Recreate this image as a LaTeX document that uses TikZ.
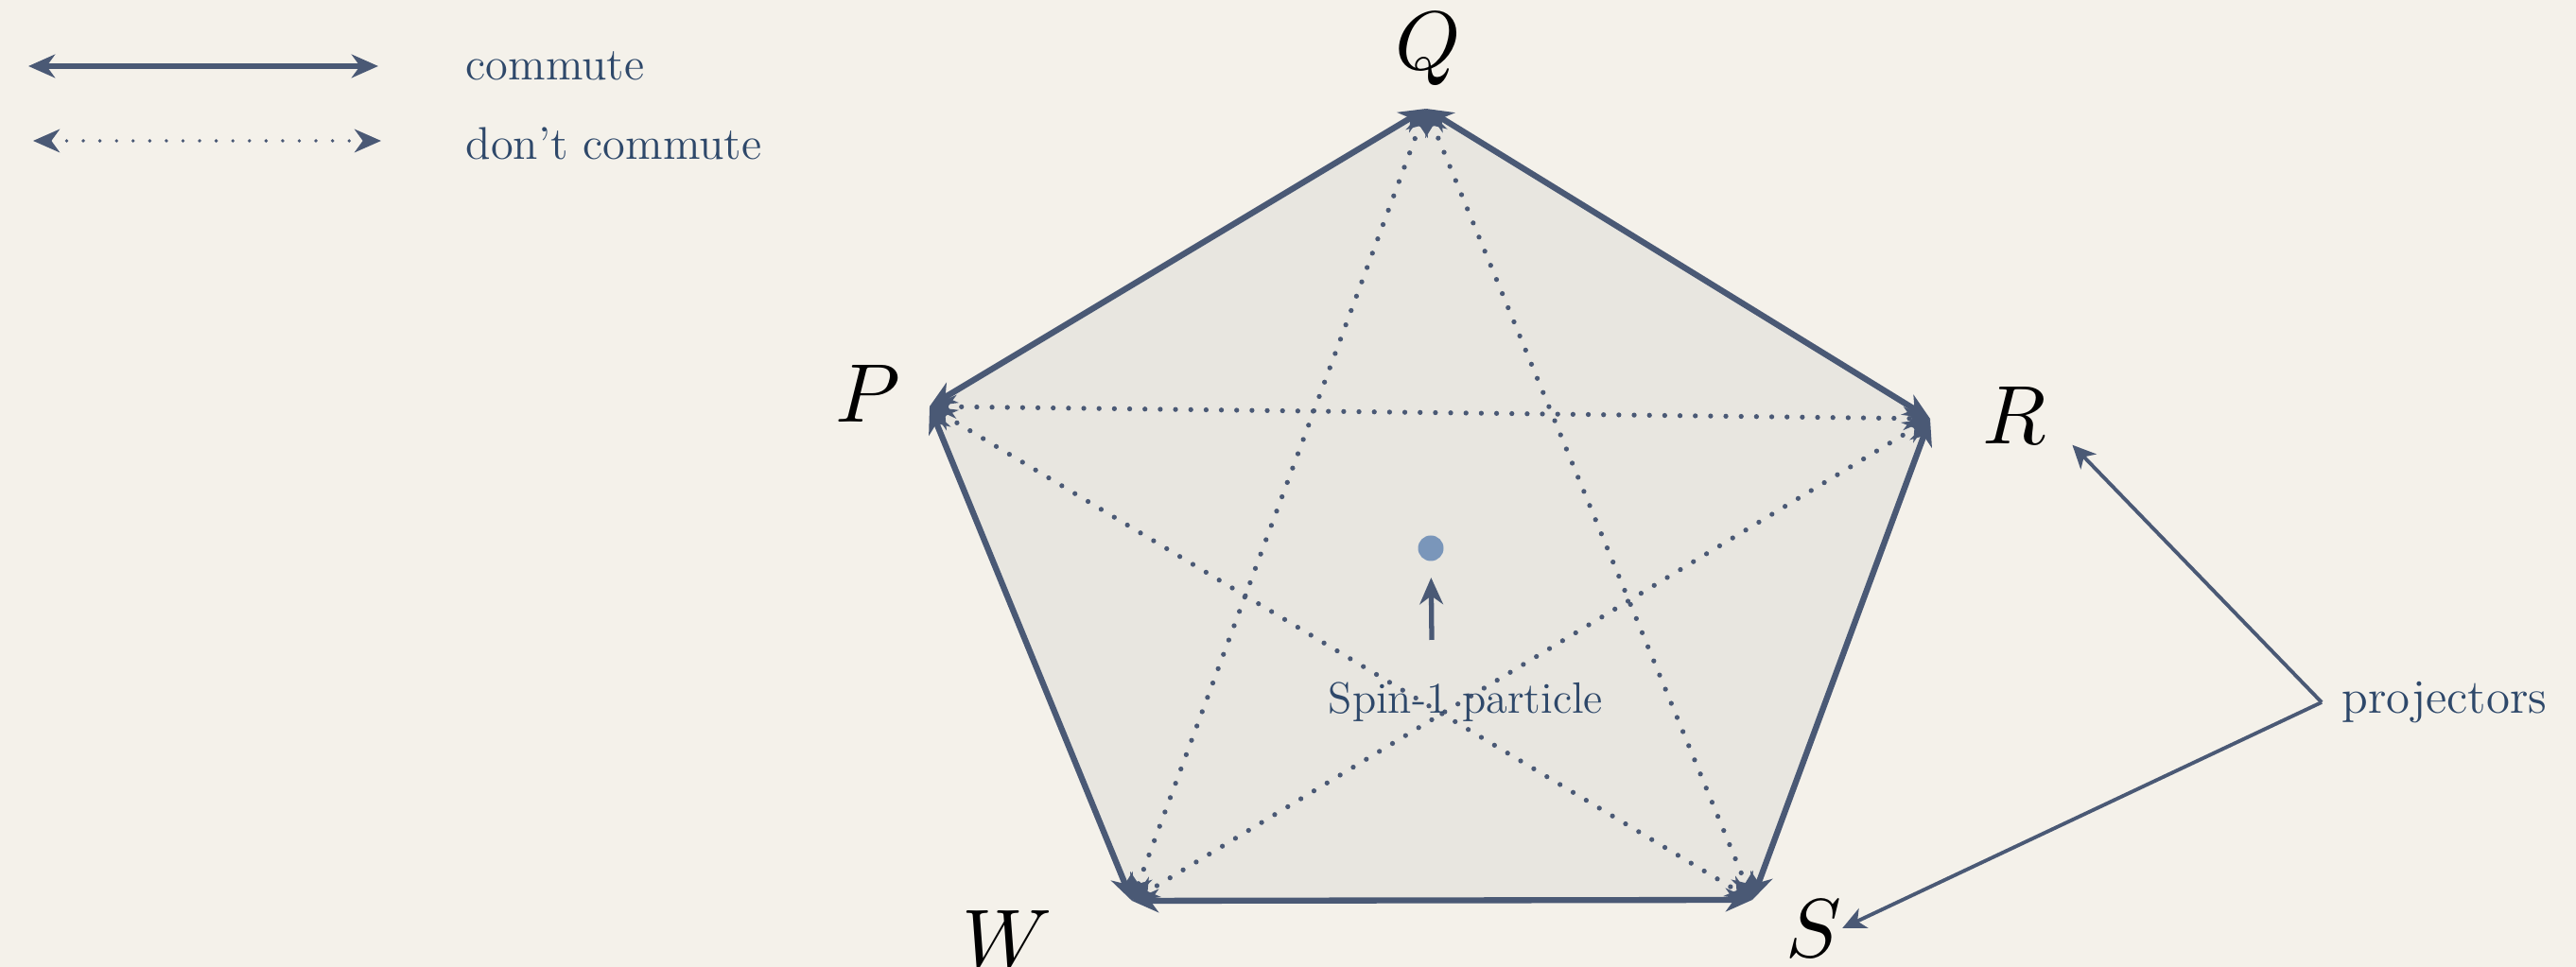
\documentclass[tikz,border=0pt]{standalone}
\usepackage{graphicx}
\usetikzlibrary{positioning, arrows.meta, calc}
\definecolor{paper}{RGB}{244,241,234}
\definecolor{pent}{RGB}{232,230,224}
\definecolor{edge}{RGB}{74,89,117}
\definecolor{ink}{RGB}{46,72,106}
\definecolor{spin}{RGB}{122,150,186}
\tikzset{
  comm/.style={<->, edge, line width=1.8pt},
  nocomm/.style={<->, edge, line width=1.5pt, dash pattern=on 0pt off 4.6pt, line cap=round},
  vlabel/.style={text=black, inner sep=0pt},
  txt/.style={text=ink, font=\fontsize{13.8}{16}\selectfont, inner sep=0pt},
  projarrow/.style={->, edge, line width=1.1pt, >={Stealth[length=7pt,width=6.5pt,inset=2pt]}},
}

\begin{document}
\begin{tikzpicture}[>={Stealth[length=8pt,width=7pt,inset=2.5pt]}]
  \fill[paper] (0,0) rectangle (27.24,10.23);
  \useasboundingbox (0,0) rectangle (27.24,10.23);
  % corners of the pentagon
  \coordinate (vQ) at (15.08,9.08);
  \coordinate (vR) at (20.41,5.80);
  \coordinate (vS) at (18.53,0.71);
  \coordinate (vW) at (11.97,0.70);
  \coordinate (vP) at (9.83,5.93);
  \fill[pent] (vQ) -- (vR) -- (vS) -- (vW) -- (vP) -- cycle;
  \foreach \a/\b in {Q/R,R/S,S/W,W/P,P/Q} \draw[comm] (v\a) -- (v\b);
  \foreach \a/\b in {Q/S,Q/W,P/R,P/S,R/W} \draw[nocomm] (v\a) -- (v\b);
  \node[vlabel] (lQ) at (15.10,9.71) {\scalebox{2.5}{$Q$}};
  \node[vlabel] (lP) at (9.18,6.06) {\scalebox{2.5}{$P$}};
  \node[vlabel] (lR) at (21.30,5.83) {\scalebox{2.5}{$R$}};
  \node[vlabel] (lW) at (10.65,0.30) {\scalebox{2.5}{$W$}};
  \node[vlabel] (lS) at (19.18,0.41) {\scalebox{2.5}{$S$}};
  % the particle
  \node[circle,fill=spin,minimum size=0.27cm,inner sep=0pt] (spin) at (15.13,4.43) {};
  \coordinate (spinfoot) at (15.14,3.46);
  \draw[->,edge,line width=1.5pt,shorten >=4.8pt] (spinfoot) -- (spin);
  \node[txt,font=\fontsize{13.2}{15}\selectfont] (spintxt) at (15.50,2.80) {Spin-1 particle};
  % projectors
  \coordinate (pj) at (24.55,2.80);
  \node[txt,font=\fontsize{14.5}{17}\selectfont,anchor=west] (proj) at (24.76,2.80) {projectors};
  \draw[projarrow] (pj) -- ($(lR.south east)+(0.27,0)$);
  \draw[projarrow] (pj) -- (lS.east);
  % legend
  \coordinate (c1a) at (0.30,9.53);
  \coordinate (c1b) at (4.00,9.53);
  \coordinate (c2a) at (0.35,8.74);
  \coordinate (c2b) at (4.03,8.74);
  \draw[comm] (c1a) -- (c1b);
  \draw[<->,edge,line width=1.1pt,dash pattern=on 0pt off 5pt,line cap=round] (c2a) -- (c2b);
  \node[txt,anchor=west] (lcomm) at (4.92,9.53) {commute};
  \node[txt,anchor=west] (lnocomm) at (4.92,8.71) {don't commute};
\end{tikzpicture}
\end{document}
